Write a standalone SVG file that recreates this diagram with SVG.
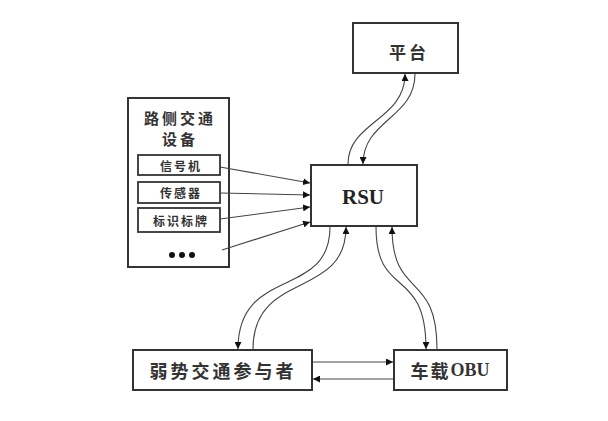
<svg xmlns="http://www.w3.org/2000/svg" width="608" height="421" viewBox="0 0 608 421">
<style>
.box{fill:#fff;stroke:#333;stroke-width:2}
.ibox{fill:#fff;stroke:#333;stroke-width:1.8}
.cjk{font-family:"Noto Sans CJK SC","Noto Sans CJK JP",sans-serif;font-weight:bold;fill:#333;text-anchor:middle;dominant-baseline:central}
.lat{font-family:"Liberation Serif","Noto Sans CJK SC",serif;font-weight:bold;fill:#222;text-anchor:middle;dominant-baseline:central}
.ln{fill:none;stroke:#444;stroke-width:1.1;marker-end:url(#ah)}
.ln0{fill:none;stroke:#444;stroke-width:1.1}
</style>
<defs>
<marker id="ah" viewBox="0 0 10 10" refX="10" refY="5" markerWidth="7" markerHeight="7" markerUnits="userSpaceOnUse" orient="auto">
<path d="M0,0 L10,5 L0,10 z" fill="#111"/>
</marker>
</defs>
<rect width="608" height="421" fill="#fff"/>
<g id="platform">
<rect class="box" x="353" y="23" width="105" height="50"/>
<text class="cjk" x="409" y="51" font-size="17" letter-spacing="3">平台</text>
</g>
<g id="rsu">
<rect class="box" x="311" y="165" width="106" height="61"/>
<text class="lat" x="363" y="197" font-size="21">RSU</text>
</g>
<g id="roadside">
<rect class="box" x="128" y="98" width="101" height="169"/>
<text class="cjk" x="180" y="117" font-size="15" letter-spacing="3">路侧交通</text>
<text class="cjk" x="180" y="138" font-size="15" letter-spacing="3">设备</text>
<g id="signal">
<rect class="ibox" x="138" y="155" width="82" height="20"/>
<text class="cjk" x="181" y="165" font-size="12" letter-spacing="2">信号机</text>
</g>
<g id="sensor">
<rect class="ibox" x="138" y="182" width="82" height="21"/>
<text class="cjk" x="181" y="192.5" font-size="12" letter-spacing="2">传感器</text>
</g>
<g id="sign">
<rect class="ibox" x="138" y="208" width="82" height="24"/>
<text class="cjk" x="181" y="220" font-size="12" letter-spacing="2">标识标牌</text>
</g>
<circle cx="172" cy="255" r="3" fill="#111"/>
<circle cx="182" cy="255" r="3" fill="#111"/>
<circle cx="192" cy="255" r="3" fill="#111"/>
</g>
<g id="vru">
<rect class="box" x="133" y="350" width="179" height="40"/>
<text class="cjk" x="223" y="370" font-size="18" letter-spacing="3">弱势交通参与者</text>
</g>
<g id="obu">
<rect class="box" x="394" y="350" width="113" height="40"/>
<text x="450" y="370" font-size="18" text-anchor="middle" dominant-baseline="central" fill="#333" font-weight="bold"><tspan font-family="Noto Sans CJK SC, sans-serif" letter-spacing="2">车载</tspan><tspan font-family="Liberation Serif, serif">OBU</tspan></text>
</g>
<g id="connectors">
<path class="ln" d="M220,167 L310,183"/>
<path class="ln" d="M220,193 L310,195"/>
<path class="ln" d="M220,219 L310,207"/>
<path class="ln" d="M222,250 L310,222"/>
<path class="ln" d="M348,164 C348,122 405,120 405,74"/>
<path class="ln" d="M415,74 C415,118 363,120 363,164"/>
<path class="ln" d="M330,227 C330,300 238,265 238,349"/>
<path class="ln" d="M253,349 C253,270 346,300 346,227"/>
<path class="ln" d="M376,227 C376,300 426,265 426,349"/>
<path class="ln" d="M437,349 C437,270 392,300 392,227"/>
<path class="ln" d="M313,362 L393,362"/>
<path class="ln" d="M393,379 L313,379"/>
</g>
</svg>
